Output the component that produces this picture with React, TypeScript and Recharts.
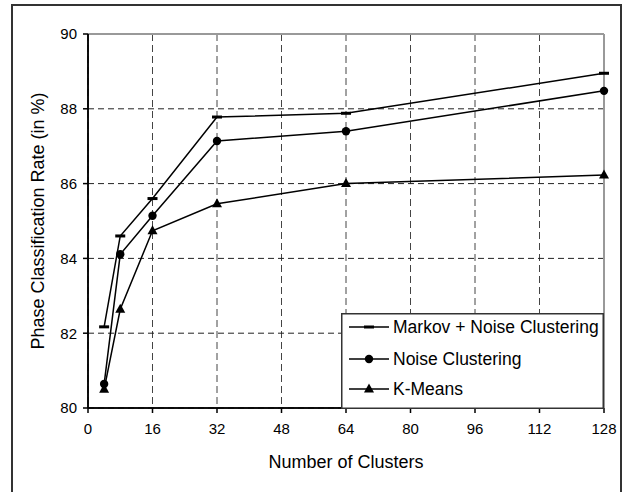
import React from "react";
import {
  CartesianGrid,
  Legend,
  Line,
  LineChart,
  ReferenceLine,
  XAxis,
  YAxis,
} from "recharts";

const clusters = [4, 8, 16, 32, 64, 128];
const markovNoise = [82.17, 84.6, 85.6, 87.78, 87.88, 88.95];
const noiseClustering = [80.64, 84.11, 85.14, 87.14, 87.4, 88.48];
const kMeans = [80.5, 82.64, 84.74, 85.46, 86.0, 86.23];

const xTicks = [0, 16, 32, 48, 64, 80, 96, 112, 128];
const yTicks = [80, 82, 84, 86, 88, 90];

const seriesNames = ["Markov + Noise Clustering", "Noise Clustering", "K-Means"];

const data = clusters.map((k, i) => ({
  k,
  markov: markovNoise[i],
  noise: noiseClustering[i],
  kmeans: kMeans[i],
}));

const font = "Arial, 'Liberation Sans', sans-serif";
const ink = "#000";

function DashMark({ cx, cy }: { cx: number; cy: number }) {
  return <rect x={cx - 5} y={cy - 1.5} width={10} height={3} fill={ink} />;
}

function CircleMark({ cx, cy }: { cx: number; cy: number }) {
  return <circle cx={cx} cy={cy} r={4.2} fill={ink} />;
}

function TriangleMark({ cx, cy }: { cx: number; cy: number }) {
  return (
    <path
      d={`M${cx},${cy - 5.5} L${cx + 5},${cy + 3.5} L${cx - 5},${cy + 3.5} Z`}
      fill={ink}
    />
  );
}

const marks = [DashMark, CircleMark, TriangleMark];

function renderDot(Mark: typeof DashMark, name: string) {
  return (props: any) => {
    const { cx, cy, index } = props;
    if (cx == null || cy == null) return <g key={`${name}-${index}`} />;
    return (
      <g key={`${name}-${index}`}>
        <Mark cx={cx} cy={cy} />
      </g>
    );
  };
}

function LegendBox() {
  const rowY = [14, 46, 76];
  return (
    <svg width={263} height={96} style={{ display: "block" }}>
      <rect x={0.75} y={0.75} width={261.5} height={94.5} fill="#fff" stroke="#333" strokeWidth={1.5} />
      {seriesNames.map((name, i) => {
        const Mark = marks[i];
        return (
          <g key={name}>
            <line x1={8} x2={48} y1={rowY[i]} y2={rowY[i]} stroke={ink} strokeWidth={1.5} />
            <Mark cx={28} cy={rowY[i]} />
            <text
              x={52}
              y={rowY[i]}
              dy="0.35em"
              fontSize={17.5}
              fontFamily={font}
              fill={ink}
            >
              {name}
            </text>
          </g>
        );
      })}
    </svg>
  );
}

export default function App() {
  return (
    <div
      style={{
        position: "fixed",
        left: 0,
        top: 0,
        width: 627,
        height: 492,
        background: "#fff",
        overflow: "hidden",
        fontFamily: font,
      }}
    >
      <div
        style={{
          position: "absolute",
          left: 11,
          top: 4,
          width: 607,
          height: 500,
          border: "2px solid #333",
        }}
      />
      <div style={{ position: "absolute", left: 0, top: 0 }}>
        <LineChart
          width={627}
          height={492}
          data={data}
          margin={{ top: 34, right: 23, bottom: 24, left: 10 }}
        >
          <CartesianGrid horizontal={false} stroke="#444" strokeDasharray="7 4" />
          <CartesianGrid vertical={false} stroke="#222" strokeDasharray="6 4" />
          <ReferenceLine y={90} stroke="#999" strokeWidth={2} />
          <ReferenceLine x={128} stroke="#999" strokeWidth={2} />
          <ReferenceLine y={80} stroke={ink} strokeWidth={1.5} />
          <ReferenceLine x={0} stroke={ink} strokeWidth={1.5} />
          <XAxis
            dataKey="k"
            type="number"
            domain={[0, 128]}
            ticks={xTicks}
            interval={0}
            height={60}
            stroke={ink}
            strokeWidth={1.5}
            tickSize={5}
            tickMargin={10}
            tick={{ fill: ink, fontSize: 15, fontFamily: font }}
            label={{
              value: "Number of Clusters",
              position: "insideBottom",
              offset: 0,
              fill: ink,
              fontSize: 18,
              fontFamily: font,
            }}
          />
          <YAxis
            type="number"
            domain={[80, 90]}
            ticks={yTicks}
            interval={0}
            width={78}
            stroke={ink}
            strokeWidth={1.5}
            tickSize={5}
            tickMargin={6}
            tick={{ fill: ink, fontSize: 15, fontFamily: font }}
            label={{
              value: "Phase Classification Rate (in %)",
              angle: -90,
              position: "insideLeft",
              offset: 28,
              fill: ink,
              fontSize: 18,
              fontFamily: font,
              style: { textAnchor: "middle" },
            }}
          />
          <Legend
            layout="vertical"
            align="center"
            verticalAlign="middle"
            content={() => <LegendBox />}
            wrapperStyle={{ position: "absolute", left: 341, top: 313, width: 263, height: 96 }}
          />
          <Line
            dataKey="kmeans"
            name={seriesNames[2]}
            stroke={ink}
            strokeWidth={1.5}
            dot={renderDot(TriangleMark, "kmeans")}
            activeDot={false}
            isAnimationActive={false}
          />
          <Line
            dataKey="noise"
            name={seriesNames[1]}
            stroke={ink}
            strokeWidth={1.5}
            dot={renderDot(CircleMark, "noise")}
            activeDot={false}
            isAnimationActive={false}
          />
          <Line
            dataKey="markov"
            name={seriesNames[0]}
            stroke={ink}
            strokeWidth={1.5}
            dot={renderDot(DashMark, "markov")}
            activeDot={false}
            isAnimationActive={false}
          />
        </LineChart>
      </div>
    </div>
  );
}
